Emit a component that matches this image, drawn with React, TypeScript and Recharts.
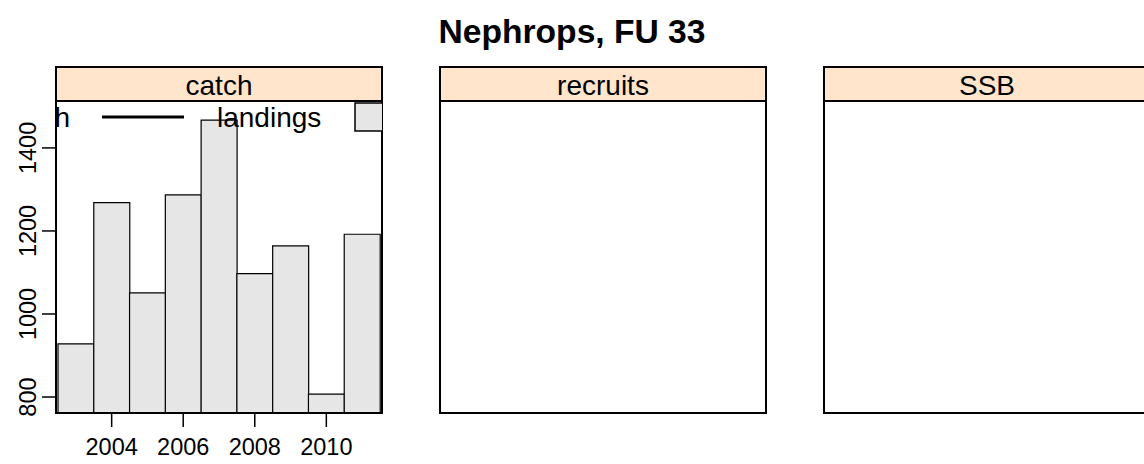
import React from "react"
import { BarChart, Bar, XAxis, YAxis } from "recharts"

const years = [2003, 2004, 2005, 2006, 2007, 2008, 2009, 2010, 2011]
const landings = [928, 1268, 1051, 1287, 1467, 1097, 1164, 807, 1192]
const xTicks = [2004, 2006, 2008, 2010]
const yTicks = [800, 1000, 1200, 1400]
const panelNames = ["catch", "recruits", "SSB"]
const keyLabels = ["catch", "landings"]
const title = "Nephrops, FU 33"

const data = years.map((year, i) => ({ year, landings: landings[i] }))

const FONT = "'Liberation Sans', Arial, Helvetica, sans-serif"
const PANEL_W = 326
const PANEL_LEFT = [56, 440, 824]
const STRIP_TOP = 67
const STRIP_BOTTOM = 101
const PLOT_BOTTOM = 413
const TICK_FONT = 23.5

const XTick = (props: any) => {
  const { x, y, payload } = props
  return (
    <text x={x} y={y + 28} textAnchor="middle" fontSize={TICK_FONT} fontFamily={FONT} fill="#000">
      {payload.value}
    </text>
  )
}

const YTick = (props: any) => {
  const { x, y, payload } = props
  const bx = x - 6
  return (
    <text
      x={bx}
      y={y}
      textAnchor="middle"
      fontSize={TICK_FONT}
      fontFamily={FONT}
      fill="#000"
      transform={`rotate(-90, ${bx}, ${y})`}
    >
      {payload.value}
    </text>
  )
}

export default function App() {
  return (
    <div
      style={{
        position: "absolute",
        left: 0,
        top: 0,
        width: 1144,
        height: 464,
        background: "#fff",
        overflow: "hidden",
        fontFamily: FONT,
      }}
    >
      <div style={{ position: "absolute", left: 0, top: STRIP_BOTTOM }}>
        <BarChart
          width={390}
          height={363}
          data={data}
          margin={{ top: 0, right: 8, bottom: 0, left: 0 }}
          barCategoryGap={0}
          barGap={0}
        >
          <XAxis
            dataKey="year"
            type="category"
            padding={{ left: 2, right: 2 }}
            ticks={xTicks}
            interval={0}
            tickSize={14}
            tickMargin={0}
            axisLine={false}
            tickLine={{ stroke: "#000", strokeWidth: 1.5 }}
            height={51}
            tick={<XTick />}
          />
          <YAxis
            type="number"
            domain={[761.5, 1513]}
            allowDataOverflow
            ticks={yTicks}
            interval={0}
            width={56}
            tickSize={14}
            tickMargin={0}
            axisLine={false}
            tickLine={{ stroke: "#000", strokeWidth: 1.5 }}
            tick={<YTick />}
          />
          <Bar dataKey="landings" fill="#e6e6e6" stroke="#000" strokeWidth={1.2} isAnimationActive={false} />
        </BarChart>
      </div>

      <svg
        width={1144}
        height={464}
        style={{ position: "absolute", left: 0, top: 0, pointerEvents: "none" }}
      >
        <defs>
          <clipPath id="panel1">
            <rect x={PANEL_LEFT[0]} y={STRIP_BOTTOM} width={PANEL_W} height={PLOT_BOTTOM - STRIP_BOTTOM} />
          </clipPath>
        </defs>
        <text x={572} y={43} textAnchor="middle" fontSize={33.6} fontWeight="bold" fontFamily={FONT} fill="#000">
          {title}
        </text>

        {panelNames.map((name, i) => {
          const left = PANEL_LEFT[i]
          return (
            <g key={name}>
              <rect
                x={left}
                y={STRIP_BOTTOM}
                width={PANEL_W}
                height={PLOT_BOTTOM - STRIP_BOTTOM}
                fill={i === 0 ? "none" : "#fff"}
                stroke="#000"
                strokeWidth={2}
              />
              <rect
                x={left}
                y={STRIP_TOP}
                width={PANEL_W}
                height={STRIP_BOTTOM - STRIP_TOP}
                fill="#ffe5cc"
                stroke="#000"
                strokeWidth={2}
              />
              <text x={left + PANEL_W / 2} y={95} textAnchor="middle" fontSize={28} fontFamily={FONT} fill="#000">
                {name}
              </text>
            </g>
          )
        })}

        <g clipPath="url(#panel1)">
          <text x={70} y={127} textAnchor="end" fontSize={28} fontFamily={FONT} fill="#000">
            {keyLabels[0]}
          </text>
          <line x1={102} x2={184} y1={117} y2={117} stroke="#000" strokeWidth={3} />
          <text x={217} y={127} fontSize={28} fontFamily={FONT} fill="#000">
            {keyLabels[1]}
          </text>
          <rect x={355} y={103} width={40} height={28} fill="#e6e6e6" stroke="#000" strokeWidth={1.5} />
        </g>
      </svg>
    </div>
  )
}
